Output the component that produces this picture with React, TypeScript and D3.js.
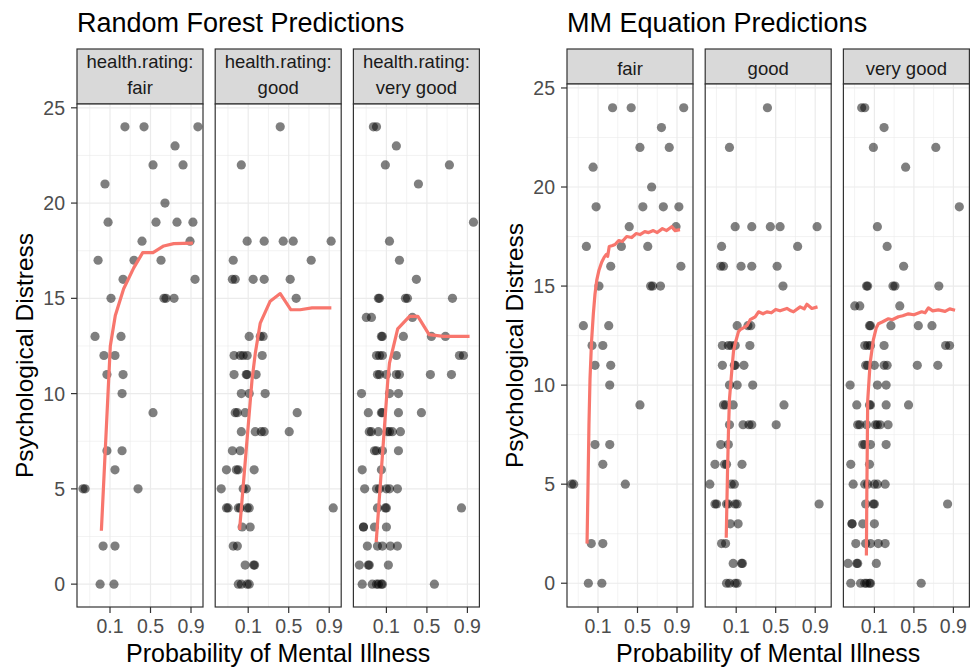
import * as d3 from "d3";

type Pt = [number, number]; // [probability of mental illness, psychological distress]

const RATINGS = ["fair", "good", "very good"];
const X_TICKS = [0.1, 0.5, 0.9];
const Y_TICKS = [0, 5, 10, 15, 20, 25];

// observed (jittered) responses, one list per health rating
const FAIR_OBS: Pt[] = [
  [0.2, 24], [0.413, 24], [0.929, 24], [0.791, 23], [0.534, 22], [0.854, 22],
  [0.078, 21], [0.687, 20], [0.091, 19], [0.574, 19], [0.808, 19], [0.909, 19],
  [0.387, 18], [0.895, 18], [0.055, 17], [0.29, 17], [0.639, 17], [0.184, 16],
  [0.918, 16], [0.105, 15], [0.675, 15], [0.699, 15], [0.782, 15], [0.047, 13],
  [0.168, 13], [0.074, 12], [0.127, 12], [0.086, 11], [0.184, 11], [0.176, 10],
  [0.534, 9], [0.086, 7], [0.176, 7], [0.127, 6], [0.025, 5], [0.028, 5],
  [0.337, 5], [0.071, 2], [0.127, 2], [0.061, 0], [0.121, 0],
];

const GOOD_OBS: Pt[] = [
  [0.387, 24], [0.071, 22], [0.095, 18], [0.209, 18], [0.426, 18], [0.561, 18],
  [0.909, 18], [0.047, 17], [0.772, 17], [0.045, 16], [0.052, 16], [0.127, 16],
  [0.209, 16], [0.52, 16], [0.6, 15], [0.105, 13], [0.176, 13], [0.2, 13],
  [0.049, 12], [0.067, 12], [0.078, 12], [0.095, 12], [0.192, 12], [0.049, 11],
  [0.091, 11], [0.095, 11], [0.146, 11], [0.071, 10], [0.105, 10], [0.218, 10],
  [0.052, 9], [0.058, 9], [0.086, 9], [0.613, 9], [0.071, 8], [0.14, 8],
  [0.184, 8], [0.209, 8], [0.507, 8], [0.045, 7], [0.067, 7], [0.033, 6],
  [0.055, 6], [0.061, 6], [0.133, 6], [0.025, 5], [0.078, 5], [0.091, 5],
  [0.033, 4], [0.036, 4], [0.061, 4], [0.067, 4], [0.095, 4], [0.105, 4],
  [0.918, 4], [0.074, 3], [0.11, 3], [0.047, 2], [0.058, 2], [0.086, 1],
  [0.13, 1], [0.136, 1], [0.061, 0], [0.071, 0], [0.095, 0], [0.105, 0],
];

const VGOOD_OBS: Pt[] = [
  [0.052, 24], [0.061, 24], [0.16, 23], [0.095, 22], [0.772, 22], [0.387, 21],
  [0.926, 19], [0.116, 18], [0.184, 17], [0.361, 16], [0.067, 15], [0.071, 15],
  [0.238, 15], [0.258, 15], [0.8, 15], [0.036, 14], [0.047, 14], [0.313, 14],
  [0.078, 13], [0.082, 13], [0.218, 13], [0.561, 13], [0.732, 13], [0.061, 12],
  [0.071, 12], [0.082, 12], [0.16, 12], [0.854, 12], [0.879, 12], [0.064, 11],
  [0.071, 11], [0.1, 11], [0.16, 11], [0.184, 11], [0.547, 11], [0.791, 11],
  [0.028, 10], [0.116, 10], [0.176, 10], [0.04, 9], [0.078, 9], [0.082, 9],
  [0.176, 9], [0.426, 9], [0.042, 8], [0.047, 8], [0.067, 8], [0.105, 8],
  [0.116, 8], [0.133, 8], [0.192, 8], [0.055, 7], [0.061, 7], [0.082, 7],
  [0.176, 7], [0.029, 6], [0.078, 6], [0.033, 5], [0.061, 5], [0.071, 5],
  [0.1, 5], [0.116, 5], [0.168, 5], [0.064, 4], [0.095, 4], [0.1, 4],
  [0.867, 4], [0.031, 3], [0.031, 3], [0.055, 3], [0.1, 3], [0.038, 2],
  [0.064, 2], [0.082, 2], [0.121, 2], [0.168, 2], [0.025, 1], [0.04, 1],
  [0.042, 1], [0.11, 1], [0.029, 0], [0.049, 0], [0.061, 0], [0.067, 0],
  [0.078, 0], [0.082, 0], [0.6, 0],
];

// random forest predicted distress
const RF_FAIR: Pt[] = [
  [0.065, 2.8], [0.1015, 12.5], [0.129, 14.1], [0.189, 15.5], [0.287, 16.6],
  [0.396, 17.4], [0.534, 17.4], [0.672, 17.75], [0.779, 17.87], [0.909, 17.9],
];
const RF_GOOD: Pt[] = [
  [0.065, 2.85], [0.12, 10.7], [0.14, 12.1], [0.176, 13.7], [0.268, 14.85],
  [0.387, 15.25], [0.53, 14.4], [0.65, 14.4], [0.78, 14.5], [0.91, 14.5],
];
const RF_VGOOD: Pt[] = [
  [0.06, 2.2], [0.107, 10.7], [0.116, 11.6], [0.17, 13.4], [0.28, 14.05],
  [0.38, 14.05], [0.53, 13.1], [0.71, 13.0], [0.91, 13.0],
];

// MM equation predicted distress
const MM_FAIR: Pt[] = [
  [0.057, 2.0], [0.06, 5.0], [0.063, 8.0], [0.0665, 10.3], [0.072, 12.2],
  [0.079, 13.6], [0.086, 14.6], [0.094, 15.3], [0.105, 15.8], [0.12, 16.2],
  [0.135, 16.45], [0.15, 16.6], [0.16, 16.5], [0.172, 17.0], [0.2, 17.05],
  [0.223, 17.1], [0.26, 17.3], [0.3, 17.25], [0.354, 17.5], [0.42, 17.45],
  [0.48, 17.65], [0.535, 17.6], [0.6, 17.75], [0.65, 17.7], [0.707, 17.8],
  [0.75, 17.7], [0.8, 17.9], [0.835, 17.8], [0.87, 18.0], [0.89, 17.8],
  [0.914, 17.85],
];
const MM_GOOD: Pt[] = [
  [0.06, 2.3], [0.064, 5.5], [0.068, 8.0], [0.0711, 9.3], [0.0805, 10.8],
  [0.0873, 11.7], [0.0951, 12.1], [0.112, 12.7], [0.122, 12.8], [0.145, 12.9],
  [0.168, 13.0], [0.195, 13.3], [0.242, 13.45], [0.278, 13.7], [0.33, 13.6],
  [0.38, 13.7], [0.44, 13.65], [0.5, 13.82], [0.56, 13.75], [0.651, 13.87],
  [0.7, 13.75], [0.729, 13.7], [0.796, 13.95], [0.83, 13.85], [0.85, 14.08],
  [0.882, 13.87], [0.911, 13.95],
];
const MM_VGOOD: Pt[] = [
  [0.0665, 1.4], [0.068, 4.5], [0.07, 7.5], [0.0711, 9.2], [0.0805, 11.1],
  [0.0951, 12.3], [0.11, 12.9], [0.122, 13.1], [0.15, 13.2], [0.195, 13.35],
  [0.23, 13.3], [0.297, 13.45], [0.35, 13.5], [0.424, 13.6], [0.5, 13.55],
  [0.607, 13.7], [0.65, 13.65], [0.691, 13.9], [0.74, 13.75], [0.796, 13.8],
  [0.85, 13.72], [0.88, 13.85], [0.908, 13.78],
];

const OBS = [FAIR_OBS, GOOD_OBS, VGOOD_OBS];
const FONT = "'Liberation Sans', Arial, Helvetica, sans-serif";
const logit = (p: number) => Math.log(p / (1 - p));

interface PlotProps {
  title: string;
  left: number;
  panelTop: number;
  strips: string[][];
  stripBaselines: number[];
  fits: Pt[][];
  xDomain: [number, number];
}

function FacetPlot({ title, left, panelTop, strips, stripBaselines, fits, xDomain }: PlotProps) {
  const panelW = 126;
  const step = 138.2;
  const stripTop = 49;
  const bottom = 607;
  const x = d3.scaleLinear().domain(xDomain).range([0, panelW]);
  const y = d3.scaleLinear().domain([-1.2, 25.2]).range([bottom, panelTop]);
  const line = d3.line<Pt>().x(d => x(logit(d[0]))).y(d => y(d[1]));

  const majL = X_TICKS.map(logit);
  const half = (majL[1] - majL[0]) / 2;
  const minL = [majL[0] - half, majL[0] + half, majL[1] + half, majL[2] + half]
    .filter(v => v > xDomain[0] && v < xDomain[1]);
  const yMinor = d3.range(2.5, 25, 5);
  const midX = left + (2 * step + panelW) / 2;

  return (
    <g fontFamily={FONT}>
      <text x={left} y={32} fontSize={27} fill="#000">{title}</text>
      {RATINGS.map((r, i) => {
        const px = left + i * step;
        return (
          <g key={r} transform={`translate(${px},0)`}>
            <rect x={0} y={stripTop} width={panelW} height={panelTop - stripTop}
              fill="#D9D9D9" stroke="#333333" strokeWidth={1.2} />
            {strips[i].map((s, k) => (
              <text key={k} x={panelW / 2} y={stripBaselines[k]} textAnchor="middle"
                fontSize={18.5} fill="#1A1A1A">{s}</text>
            ))}
            <rect x={0} y={panelTop} width={panelW} height={bottom - panelTop} fill="#fff" />
            {yMinor.map(v => (
              <line key={"ym" + v} x1={0} x2={panelW} y1={y(v)} y2={y(v)} stroke="#EBEBEB" strokeWidth={0.6} />
            ))}
            {minL.map(v => (
              <line key={"xm" + v} x1={x(v)} x2={x(v)} y1={panelTop} y2={bottom} stroke="#EBEBEB" strokeWidth={0.6} />
            ))}
            {Y_TICKS.map(v => (
              <line key={"yM" + v} x1={0} x2={panelW} y1={y(v)} y2={y(v)} stroke="#EBEBEB" strokeWidth={1.2} />
            ))}
            {majL.map(v => (
              <line key={"xM" + v} x1={x(v)} x2={x(v)} y1={panelTop} y2={bottom} stroke="#EBEBEB" strokeWidth={1.2} />
            ))}
            {OBS[i].map((d, k) => (
              <circle key={k} cx={x(logit(d[0]))} cy={y(d[1])} r={4.6} fill="#000" fillOpacity={0.5} />
            ))}
            <path d={line(fits[i]) || ""} fill="none" stroke="#F8766D" strokeWidth={3.2}
              strokeLinejoin="round" strokeLinecap="butt" />
            <rect x={0} y={panelTop} width={panelW} height={bottom - panelTop}
              fill="none" stroke="#333333" strokeWidth={1.2} />
            {X_TICKS.map((t, k) => (
              <g key={t} transform={`translate(${x(majL[k])},${bottom})`}>
                <line y1={0} y2={6} stroke="#333333" strokeWidth={1.2} />
                <text y={26} textAnchor="middle" fontSize={19.5} fill="#4D4D4D">{t}</text>
              </g>
            ))}
          </g>
        );
      })}
      {Y_TICKS.map(v => (
        <g key={v} transform={`translate(${left},${y(v)})`}>
          <line x1={-6} x2={0} stroke="#333333" strokeWidth={1.2} />
          <text x={-12} dy="0.36em" textAnchor="end" fontSize={19.5} fill="#4D4D4D">{v}</text>
        </g>
      ))}
      <text transform={`translate(${left - 44},${(panelTop + bottom) / 2}) rotate(-90)`}
        textAnchor="middle" fontSize={24.5} fill="#000">Psychological Distress</text>
      <text x={midX} y={662} textAnchor="middle" fontSize={25} fill="#000">
        Probability of Mental Illness
      </text>
    </g>
  );
}

export default function App() {
  return (
    <svg width={971} height={669} style={{ position: "absolute", left: 0, top: 0, background: "#fff" }}>
      <rect width={971} height={669} fill="#fff" />
      <FacetPlot
        title="Random Forest Predictions"
        left={77}
        panelTop={104}
        strips={RATINGS.map(r => ["health.rating:", r])}
        stripBaselines={[68, 93.5]}
        fits={[RF_FAIR, RF_GOOD, RF_VGOOD]}
        xDomain={[-3.988, 2.848]}
      />
      <FacetPlot
        title="MM Equation Predictions"
        left={567}
        panelTop={84}
        strips={RATINGS.map(r => [r])}
        stripBaselines={[75]}
        fits={[MM_FAIR, MM_GOOD, MM_VGOOD]}
        xDomain={[-3.921, 3.087]}
      />
    </svg>
  );
}
